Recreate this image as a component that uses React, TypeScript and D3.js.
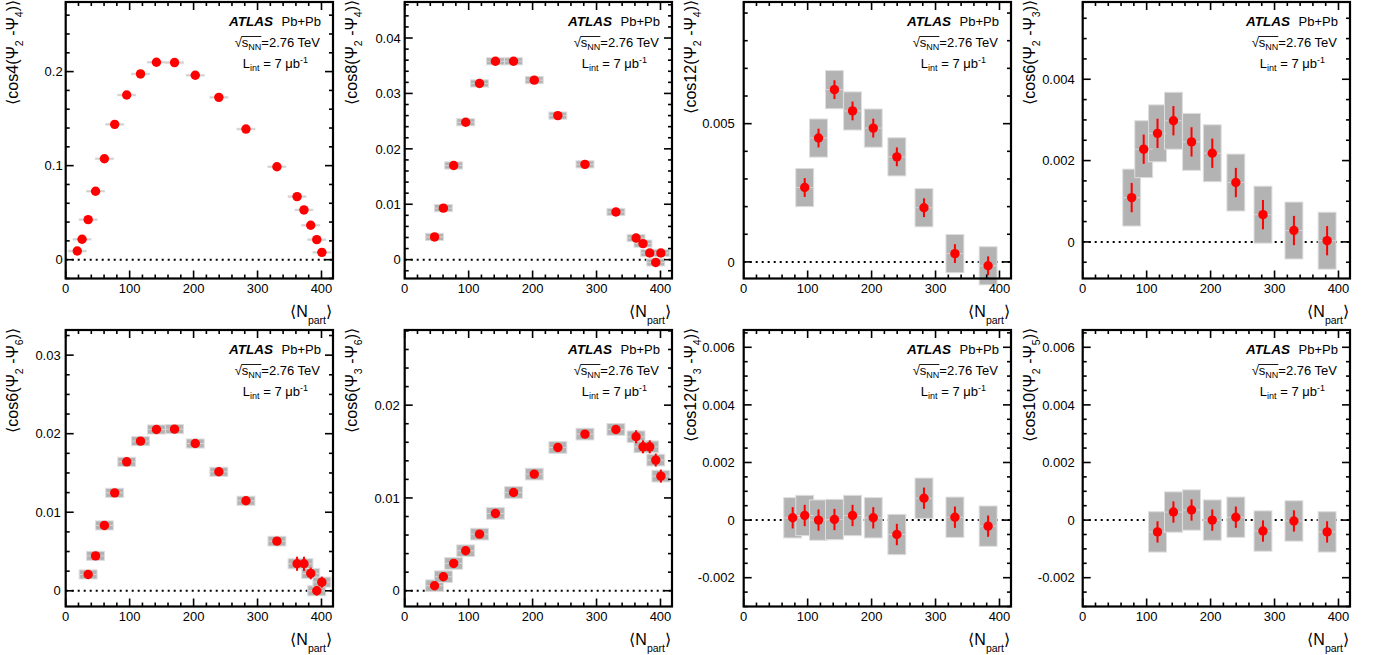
import { useEffect, useRef } from "react";
import * as d3 from "d3";

// <Npart> of the centrality bins
const nPartFine = [18.1, 25.6, 35.1, 46.7, 60.5, 76.6, 95.4, 117.0, 141.9, 170.2, 202.6, 239.5, 281.9, 330.3, 361.8, 372.6, 383.2, 392.6, 400.6];
const nPartCoarse = [76.6, 95.4, 117.0, 141.9, 170.2, 202.6, 239.5, 281.9, 330.3, 382.2];

// <cos4(Psi2-Psi4)>
const c4_24 = [0.0092, 0.0217, 0.0426, 0.0728, 0.1073, 0.1439, 0.1751, 0.1975, 0.2099, 0.2096, 0.1961, 0.1726, 0.1389, 0.0988, 0.0671, 0.0529, 0.0366, 0.0213, 0.0078];
const c4_24Stat = [0.0004, 0.0004, 0.0004, 0.0004, 0.0004, 0.0004, 0.0004, 0.0004, 0.0004, 0.0004, 0.0004, 0.0004, 0.0004, 0.0004, 0.0006, 0.0006, 0.0006, 0.0006, 0.0006];
const c4_24Sys = [0.0008, 0.0008, 0.0008, 0.0008, 0.0008, 0.0008, 0.0008, 0.0008, 0.0008, 0.0008, 0.0008, 0.0008, 0.0008, 0.0008, 0.0008, 0.0008, 0.0008, 0.0008, 0.0008];

// <cos8(Psi2-Psi4)>
const c8_24 = [0.0041, 0.0093, 0.0170, 0.0248, 0.0318, 0.0358, 0.0358, 0.0324, 0.0260, 0.0172, 0.0086, 0.0039, 0.0029, 0.0012, -0.0005, 0.0012];
const c8_24Stat = [0.0002, 0.0002, 0.0002, 0.0002, 0.0002, 0.0002, 0.0002, 0.0002, 0.0002, 0.0002, 0.0002, 0.0003, 0.0003, 0.0003, 0.0003, 0.0003];
const c8_24Sys = [0.00065, 0.00065, 0.00065, 0.00065, 0.00065, 0.00065, 0.00065, 0.00065, 0.00065, 0.00065, 0.00065, 0.00065, 0.00065, 0.00065, 0.00065, 0.00065];

// <cos12(Psi2-Psi4)>
const c12_24 = [0.00269, 0.00448, 0.00623, 0.00546, 0.00484, 0.0038, 0.00196, 0.0003, -0.00014];
const c12_24Stat = [0.00034, 0.00034, 0.00034, 0.00034, 0.00034, 0.00034, 0.00034, 0.00034, 0.00034];
const c12_24Sys = [0.00069, 0.00069, 0.00069, 0.00069, 0.00069, 0.00069, 0.00069, 0.00069, 0.00069];

// <cos6(Psi2-Psi3)>
const c6_23 = [0.00109, 0.00228, 0.00267, 0.00298, 0.00246, 0.00218, 0.00146, 0.00067, 0.00028, 0.00003];
const c6_23Stat = [0.00036, 0.00036, 0.00036, 0.00036, 0.00036, 0.00036, 0.00036, 0.00036, 0.00036, 0.00036];
const c6_23Sys = [0.0007, 0.0007, 0.0007, 0.0007, 0.0007, 0.0007, 0.0007, 0.0007, 0.0007, 0.0007];

// <cos6(Psi2-Psi6)>
const c6_26 = [0.00208, 0.00445, 0.00832, 0.01247, 0.01642, 0.01905, 0.02053, 0.02058, 0.01875, 0.01515, 0.01146, 0.00632, 0.00344, 0.00344, 0.00221, 0.0, 0.0011];
const c6_26Stat = [0.0002, 0.0002, 0.0002, 0.0002, 0.0002, 0.0002, 0.0002, 0.0002, 0.0002, 0.0002, 0.0002, 0.0003, 0.0009, 0.0009, 0.00075, 0.0006, 0.0007];
const c6_26Sys = [0.00058, 0.00058, 0.00058, 0.00058, 0.00058, 0.00058, 0.00058, 0.00058, 0.00058, 0.00058, 0.00058, 0.00062, 0.00064, 0.00064, 0.00064, 0.00064, 0.00064];

// <cos6(Psi3-Psi6)>
const c6_36 = [0.00054, 0.00151, 0.00294, 0.00431, 0.0061, 0.00833, 0.01059, 0.01257, 0.01544, 0.01688, 0.01738, 0.01659, 0.01551, 0.01551, 0.01408, 0.01235];
const c6_36Stat = [0.0002, 0.0002, 0.0002, 0.0002, 0.0002, 0.0002, 0.0002, 0.0002, 0.0002, 0.0002, 0.0003, 0.0007, 0.0007, 0.0007, 0.0007, 0.0007];
const c6_36Sys = [0.00063, 0.00063, 0.00063, 0.00063, 0.00063, 0.00063, 0.00063, 0.00063, 0.00063, 0.00063, 0.00063, 0.00063, 0.00063, 0.00063, 0.00063, 0.00063];

// <cos12(Psi3-Psi4)>
const c12_34 = [0.00008, 0.00016, 0.0, 0.00002, 0.00016, 0.00008, -0.0005, 0.00076, 0.0001, -0.00021];
const c12_34Stat = [0.00037, 0.00037, 0.00037, 0.00037, 0.00037, 0.00037, 0.00037, 0.00037, 0.00037, 0.00037];
const c12_34Sys = [0.0007, 0.0007, 0.0007, 0.0007, 0.0007, 0.0007, 0.0007, 0.0007, 0.0007, 0.0007];

// <cos10(Psi2-Psi5)>
const c10_25 = [-0.00041, 0.00028, 0.00035, 0.0, 0.0001, -0.00038, -0.00003, -0.00041];
const c10_25Stat = [0.00037, 0.00037, 0.00037, 0.00037, 0.00037, 0.00037, 0.00037, 0.00037];
const c10_25Sys = [0.0007, 0.0007, 0.0007, 0.0007, 0.0007, 0.0007, 0.0007, 0.0007];

// y-axis tick labels
const yTicks1 = [0, 0.1, 0.2];
const yTicks2 = [0, 0.01, 0.02, 0.03, 0.04];
const yTicks3 = [0, 0.005];
const yTicks4 = [0, 0.002, 0.004];
const yTicks5 = [0, 0.01, 0.02, 0.03];
const yTicks6 = [0, 0.01, 0.02];
const yTicks78 = [-0.002, 0, 0.002, 0.004, 0.006];
const xTicks = [0, 100, 200, 300, 400];

type Panel = {
  label: [string, string, string, string, string];
  x: number[];
  y: number[];
  stat: number[];
  sys: number[];
  yDomain: [number, number];
  yTicks: number[];
  yMinor: number;
  labelGap: number;
};

const panels: Panel[] = [
  { label: ["⟨cos4(Ψ", "2", " -Ψ", "4", ")⟩"], x: nPartFine, y: c4_24, stat: c4_24Stat, sys: c4_24Sys, yDomain: [-0.02, 0.274], yTicks: yTicks1, yMinor: 0.02, labelGap: 3 },
  { label: ["⟨cos8(Ψ", "2", " -Ψ", "4", ")⟩"], x: nPartFine.slice(3), y: c8_24, stat: c8_24Stat, sys: c8_24Sys, yDomain: [-0.0034, 0.0465], yTicks: yTicks2, yMinor: 0.002, labelGap: 4 },
  { label: ["⟨cos12(Ψ", "2", " -Ψ", "4", ")⟩"], x: nPartCoarse.slice(1), y: c12_24, stat: c12_24Stat, sys: c12_24Sys, yDomain: [-0.0006, 0.0094], yTicks: yTicks3, yMinor: 0.001, labelGap: 9 },
  { label: ["⟨cos6(Ψ", "2", " -Ψ", "3", ")⟩"], x: nPartCoarse, y: c6_23, stat: c6_23Stat, sys: c6_23Sys, yDomain: [-0.0009, 0.0059], yTicks: yTicks4, yMinor: 0.0005, labelGap: 8 },
  { label: ["⟨cos6(Ψ", "2", " -Ψ", "6", ")⟩"], x: nPartFine.slice(2), y: c6_26, stat: c6_26Stat, sys: c6_26Sys, yDomain: [-0.002, 0.0332], yTicks: yTicks5, yMinor: 0.0025, labelGap: 5 },
  { label: ["⟨cos6(Ψ", "3", " -Ψ", "6", ")⟩"], x: nPartFine.slice(3), y: c6_36, stat: c6_36Stat, sys: c6_36Sys, yDomain: [-0.0017, 0.0281], yTicks: yTicks6, yMinor: 0.002, labelGap: 5 },
  { label: ["⟨cos12(Ψ", "3", " -Ψ", "4", ")⟩"], x: nPartCoarse, y: c12_34, stat: c12_34Stat, sys: c12_34Sys, yDomain: [-0.003, 0.0066], yTicks: yTicks78, yMinor: 0.0005, labelGap: 9 },
  { label: ["⟨cos10(Ψ", "2", " -Ψ", "5", ")⟩"], x: nPartCoarse.slice(2), y: c10_25, stat: c10_25Stat, sys: c10_25Sys, yDomain: [-0.003, 0.0066], yTicks: yTicks78, yMinor: 0.0005, labelGap: 8 },
];

const FONT = "'Liberation Sans', Arial, Helvetica, sans-serif";
const FRAME_LEFT = 65.7;
const COL_STEP = 339;
const FRAME_W = 267.3;
const FRAME_H = 276.5;
const ROW_TOP = [2, 330];
const X_DOMAIN: [number, number] = [0, 418];
const BOX_HALF = 14;

export default function App() {
  const svgRef = useRef<SVGSVGElement>(null);

  useEffect(() => {
    if (!svgRef.current) return;
    document.body.style.margin = "0";
    const svg = d3.select(svgRef.current);
    svg.selectAll("*").remove();

    panels.forEach((p, i) => {
      const col = i % 4;
      const row = Math.floor(i / 4);
      const left = FRAME_LEFT + col * COL_STEP;
      const right = left + FRAME_W;
      const top = ROW_TOP[row];
      const bottom = top + FRAME_H;

      const x = d3.scaleLinear().domain(X_DOMAIN).range([left, right]);
      const y = d3.scaleLinear().domain(p.yDomain).range([bottom, top]);
      const pts = p.x.map((n, k) => ({ n, v: p.y[k], stat: p.stat[k], sys: p.sys[k] }));

      const g = svg.append("g").attr("font-family", FONT);

      // zero line
      g.append("line")
        .attr("x1", left).attr("x2", right)
        .attr("y1", y(0)).attr("y2", y(0))
        .attr("stroke", "#000").attr("stroke-width", 2)
        .attr("stroke-dasharray", "2 4");

      // systematic boxes
      g.append("g").selectAll("rect")
        .data(pts)
        .join("rect")
        .attr("x", (d) => x(d.n - BOX_HALF))
        .attr("width", (d) => x(d.n + BOX_HALF) - x(d.n - BOX_HALF))
        .attr("y", (d) => y(d.v + d.sys))
        .attr("height", (d) => y(d.v - d.sys) - y(d.v + d.sys))
        .attr("fill", "#b3b3b3")
        .attr("stroke", "#dedede")
        .attr("stroke-width", 1);

      g.append("g").selectAll("line")
        .data(pts)
        .join("line")
        .attr("x1", (d) => x(d.n - BOX_HALF))
        .attr("x2", (d) => x(d.n + BOX_HALF))
        .attr("y1", (d) => y(d.v))
        .attr("y2", (d) => y(d.v))
        .attr("stroke", "#d4d4d4")
        .attr("stroke-width", 1);

      // statistical errors
      g.append("g").selectAll("line")
        .data(pts)
        .join("line")
        .attr("x1", (d) => x(d.n))
        .attr("x2", (d) => x(d.n))
        .attr("y1", (d) => y(d.v + d.stat))
        .attr("y2", (d) => y(d.v - d.stat))
        .attr("stroke", "#ff0000")
        .attr("stroke-width", 2);

      g.append("g").selectAll("circle")
        .data(pts)
        .join("circle")
        .attr("cx", (d) => x(d.n))
        .attr("cy", (d) => y(d.v))
        .attr("r", 4.7)
        .attr("fill", "#ff0000");

      // frame
      g.append("rect")
        .attr("x", left).attr("y", top)
        .attr("width", FRAME_W).attr("height", FRAME_H)
        .attr("fill", "none").attr("stroke", "#000").attr("stroke-width", 2.2);

      // ticks on all four sides
      const ticks = g.append("g").attr("stroke", "#000").attr("stroke-width", 1.6);
      const xMinor = d3.range(0, X_DOMAIN[1] + 0.1, 20);
      xMinor.forEach((v) => {
        const len = v % 100 === 0 ? 8 : 4;
        ticks.append("line").attr("x1", x(v)).attr("x2", x(v)).attr("y1", bottom).attr("y2", bottom - len);
        ticks.append("line").attr("x1", x(v)).attr("x2", x(v)).attr("y1", top).attr("y2", top + len);
      });
      const k0 = Math.ceil(p.yDomain[0] / p.yMinor - 1e-6);
      const k1 = Math.floor(p.yDomain[1] / p.yMinor + 1e-6);
      d3.range(k0, k1 + 1).forEach((k) => {
        const v = k * p.yMinor;
        const major = p.yTicks.some((t) => Math.abs(t - v) < p.yMinor / 10);
        const len = major ? 8 : 4;
        ticks.append("line").attr("x1", left).attr("x2", left + len).attr("y1", y(v)).attr("y2", y(v));
        ticks.append("line").attr("x1", right).attr("x2", right - len).attr("y1", y(v)).attr("y2", y(v));
      });

      // tick labels
      g.append("g").selectAll("text")
        .data(xTicks)
        .join("text")
        .attr("x", (d) => x(d))
        .attr("y", bottom + 14.5)
        .attr("text-anchor", "middle")
        .attr("font-size", 13)
        .text((d) => String(d));

      g.append("g").selectAll("text")
        .data(p.yTicks)
        .join("text")
        .attr("x", left - p.labelGap)
        .attr("y", (d) => y(d))
        .attr("dy", "0.36em")
        .attr("text-anchor", "end")
        .attr("font-size", 13)
        .text((d) => String(d));

      // axis titles
      const xt = g.append("text")
        .attr("x", right - 1).attr("y", bottom + 38)
        .attr("text-anchor", "end").attr("font-size", 16);
      xt.append("tspan").text("⟨N");
      xt.append("tspan").attr("font-size", 10.5).attr("dy", 7).text("part");
      xt.append("tspan").attr("dy", -7).text("⟩");

      const yt = g.append("text")
        .attr("transform", `translate(${left - 48},${top - 2}) rotate(-90)`)
        .attr("text-anchor", "end").attr("font-size", 16);
      yt.append("tspan").text(p.label[0]);
      yt.append("tspan").attr("font-size", 10.5).attr("dy", 5).text(p.label[1]);
      yt.append("tspan").attr("dy", -5).text(p.label[2]);
      yt.append("tspan").attr("font-size", 10.5).attr("dy", 5).text(p.label[3]);
      yt.append("tspan").attr("dy", -5).text(p.label[4]);

      // ATLAS labels
      g.append("text")
        .attr("x", right - 60).attr("y", top + 24)
        .attr("text-anchor", "end").attr("font-size", 13.5)
        .attr("font-weight", "bold").attr("font-style", "italic")
        .text("ATLAS");
      g.append("text")
        .attr("x", right - 12).attr("y", top + 24)
        .attr("text-anchor", "end").attr("font-size", 13)
        .text("Pb+Pb");

      const sq = g.append("text")
        .attr("x", right - 13).attr("y", top + 45)
        .attr("text-anchor", "end").attr("font-size", 13);
      sq.append("tspan").text("√");
      sq.append("tspan").text("s");
      sq.append("tspan").attr("font-size", 9).attr("dy", 3).text("NN");
      sq.append("tspan").attr("dy", -3).text("=2.76 TeV");
      const sn = sq.node() as SVGTextElement;
      try {
        const xa = sn.getEndPositionOfChar(0).x;
        const xb = sn.getEndPositionOfChar(3).x;
        g.append("line")
          .attr("x1", xa - 0.5).attr("x2", xb)
          .attr("y1", top + 45 - 10.5).attr("y2", top + 45 - 10.5)
          .attr("stroke", "#000").attr("stroke-width", 0.9);
      } catch (e) {
        // layout not ready
      }

      const lt = g.append("text")
        .attr("x", right - 25).attr("y", top + 66)
        .attr("text-anchor", "end").attr("font-size", 13);
      lt.append("tspan").text("L");
      lt.append("tspan").attr("font-size", 9).attr("dy", 3).text("int");
      lt.append("tspan").attr("dy", -3).text(" = 7 μb");
      lt.append("tspan").attr("font-size", 9).attr("dy", -5).text("-1");
    });
  }, []);

  return <svg ref={svgRef} width={1373} height={655} style={{ display: "block", background: "#fff" }} />;
}
